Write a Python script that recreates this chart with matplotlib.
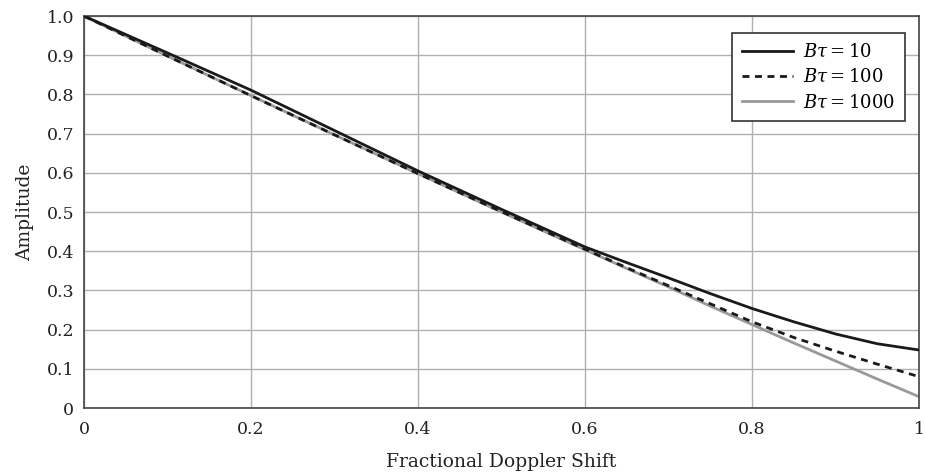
import matplotlib
matplotlib.use("Agg")
import matplotlib.pyplot as plt

plt.rcParams["font.family"] = ["DejaVu Serif"]
plt.rcParams["mathtext.fontset"] = "dejavuserif"

# Fractional Doppler shift samples
shift = [0.0, 0.1, 0.2, 0.3, 0.4, 0.5, 0.6, 0.65, 0.7, 0.75, 0.8, 0.85, 0.9, 0.95, 1.0]

# amplitude for each time-bandwidth product
amp_bt10 = [1.0, 0.906, 0.811, 0.708, 0.605, 0.507, 0.411, 0.371, 0.332, 0.292, 0.254, 0.220, 0.189, 0.164, 0.148]
amp_bt100 = [1.0, 0.898, 0.797, 0.697, 0.598, 0.501, 0.405, 0.358, 0.312, 0.266, 0.220, 0.180, 0.145, 0.112, 0.080]
amp_bt1000 = [1.0, 0.898, 0.797, 0.697, 0.598, 0.500, 0.404, 0.356, 0.309, 0.260, 0.213, 0.166, 0.120, 0.074, 0.029]

labels = [r"$B\tau = 10$", r"$B\tau = 100$", r"$B\tau = 1000$"]

xticks = [0, 0.2, 0.4, 0.6, 0.8, 1]
xticklabels = ["0", "0.2", "0.4", "0.6", "0.8", "1"]
yticks = [0, 0.1, 0.2, 0.3, 0.4, 0.5, 0.6, 0.7, 0.8, 0.9, 1.0]
yticklabels = ["0", "0.1", "0.2", "0.3", "0.4", "0.5", "0.6", "0.7", "0.8", "0.9", "1.0"]

fig = plt.figure(figsize=(9.26, 4.73), dpi=100)
ax = fig.add_axes([0.0907, 0.1374, 0.9017, 0.8286])

ax.plot(shift, amp_bt10, color="#1a1a1a", lw=2.0, label=labels[0], zorder=3)
ax.plot(shift, amp_bt100, color="#1a1a1a", lw=2.0, ls=(0, (2.5, 2.0)), label=labels[1], zorder=3)
ax.plot(shift, amp_bt1000, color="#999999", lw=2.0, label=labels[2], zorder=2)

ax.set_xlim(0, 1)
ax.set_ylim(0, 1)
ax.set_xticks(xticks)
ax.set_xticklabels(xticklabels)
ax.set_yticks(yticks)
ax.set_yticklabels(yticklabels)
ax.tick_params(length=0, labelsize=12.5, colors="#222222")
ax.tick_params(axis="x", pad=9)
ax.tick_params(axis="y", pad=7)
ax.grid(True, color="#b0b0b0", lw=1.0)
ax.set_axisbelow(True)
for sp in ax.spines.values():
    sp.set_color("#444444")
    sp.set_linewidth(1.2)

ax.set_xlabel("Fractional Doppler Shift", fontsize=13.5, labelpad=11, color="#222222")
ax.set_ylabel("Amplitude", fontsize=13.5, labelpad=9, color="#222222")

leg = ax.legend(loc="upper right", fontsize=13, frameon=True, fancybox=False,
                edgecolor="#333333", framealpha=1, borderpad=0.55,
                handlelength=2.8, handletextpad=0.55, labelspacing=0.4,
                borderaxespad=0, bbox_to_anchor=(0.983, 0.957))
leg.get_frame().set_linewidth(1.2)

fig.savefig("out.png", dpi=100)
